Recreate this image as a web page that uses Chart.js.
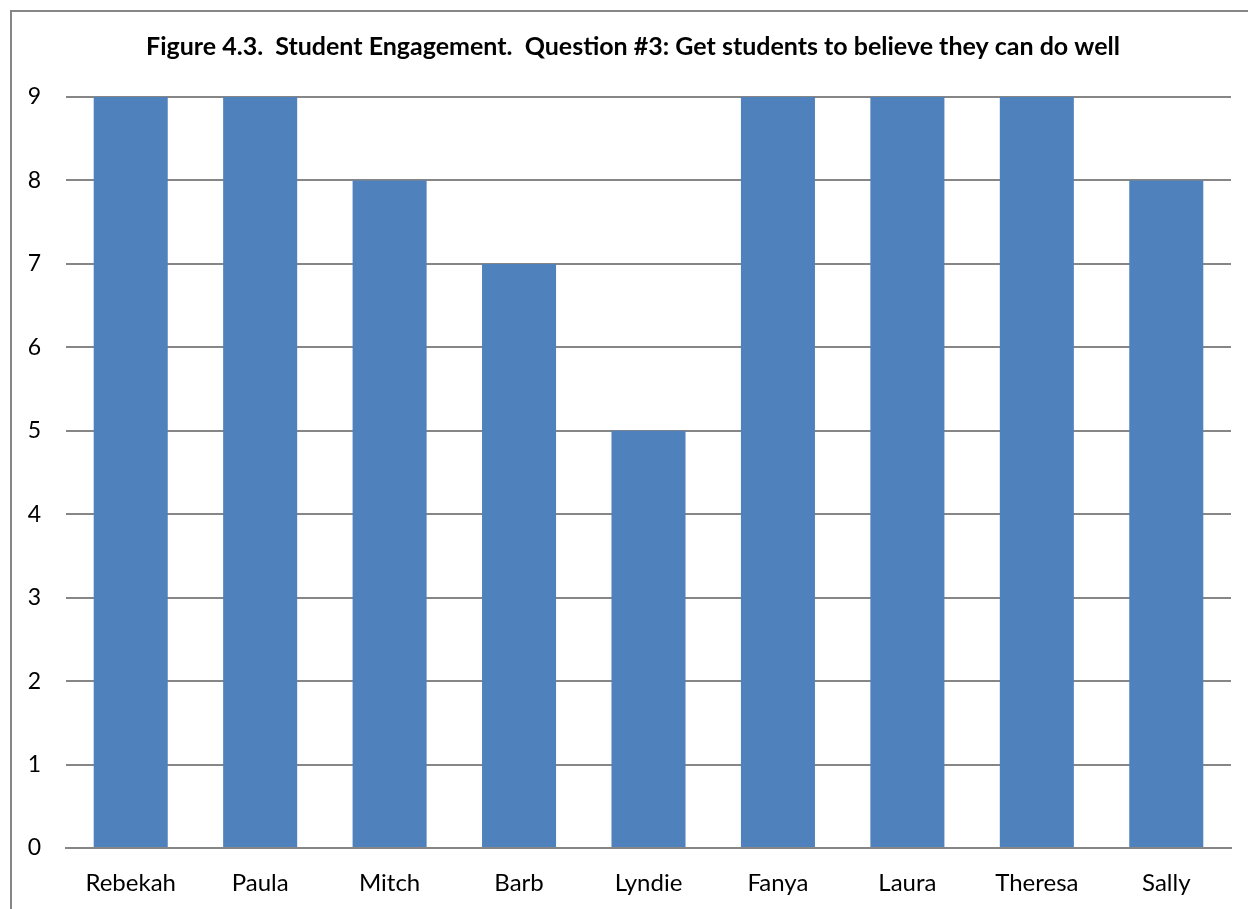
<!DOCTYPE html>
<html>
<head>
<meta charset="utf-8">
<script src="https://cdn.jsdelivr.net/npm/chart.js@4.4.1/dist/chart.umd.min.js"></script>
<style>
  html, body { margin: 0; padding: 0; background: #fff; overflow: hidden; }
  #frame {
    position: absolute; left: 10px; top: 10px;
    width: 1246px; height: 910px;
    border: 2px solid #868686; box-sizing: border-box;
    background: #fff;
  }
  #wrap { position: absolute; left: 0; top: 0; width: 1242px; height: 906px; }
</style>
</head>
<body>
<div id="frame"><div id="wrap"><canvas id="c"></canvas></div></div>
<script>
// Survey results: engagement question #3, one rating per teacher
const teachers = ['Rebekah', 'Paula', 'Mitch', 'Barb', 'Lyndie', 'Fanya', 'Laura', 'Theresa', 'Sally'];
const ratings = [9, 9, 8, 7, 5, 9, 9, 9, 8];
const yTicks = [0, 1, 2, 3, 4, 5, 6, 7, 8, 9];
const chartTitle = 'Figure 4.3.  Student Engagement.  Question #3: Get students to believe they can do well';

const FONT = 'Lato, "Open Sans", "DejaVu Sans", sans-serif';
const GRID = '#868686';

new Chart(document.getElementById('c'), {
  type: 'bar',
  data: {
    labels: teachers,
    datasets: [{
      data: ratings,
      backgroundColor: '#4F81BD',
      borderWidth: 0,
      barPercentage: 0.572,
      categoryPercentage: 1.0
    }]
  },
  options: {
    responsive: true,
    maintainAspectRatio: false,
    animation: false,
    events: [],
    layout: { padding: 0 },
    plugins: {
      legend: { display: false },
      tooltip: { enabled: false },
      title: {
        display: true,
        text: chartTitle,
        color: '#000',
        font: { family: FONT, size: 25, weight: 'bold' },
        padding: { top: 20, bottom: 35 }
      }
    },
    scales: {
      x: {
        grid: { display: false, drawTicks: false },
        border: { display: true, color: GRID, width: 2 },
        ticks: {
          color: '#000',
          font: { family: FONT, size: 24 },
          padding: 21,
          maxRotation: 0,
          autoSkip: false
        },
        afterFit: (s) => { s.height = 70; }
      },
      y: {
        min: 0,
        max: 9,
        afterBuildTicks: (s) => { s.ticks = yTicks.map(v => ({ value: v })); },
        grid: { color: GRID, lineWidth: 2, drawTicks: false },
        border: { display: false },
        ticks: {
          color: '#000',
          font: { family: FONT, size: 23 },
          padding: 25
        },
        afterFit: (s) => { s.width = 54; }
      },
      // empty right-hand margin so the plot ends short of the frame
      yRight: {
        position: 'right',
        display: true,
        min: 0,
        max: 9,
        grid: { display: false, drawTicks: false },
        border: { display: false },
        ticks: { display: false },
        afterFit: (s) => { s.width = 23; }
      }
    }
  }
});
</script>
</body>
</html>
